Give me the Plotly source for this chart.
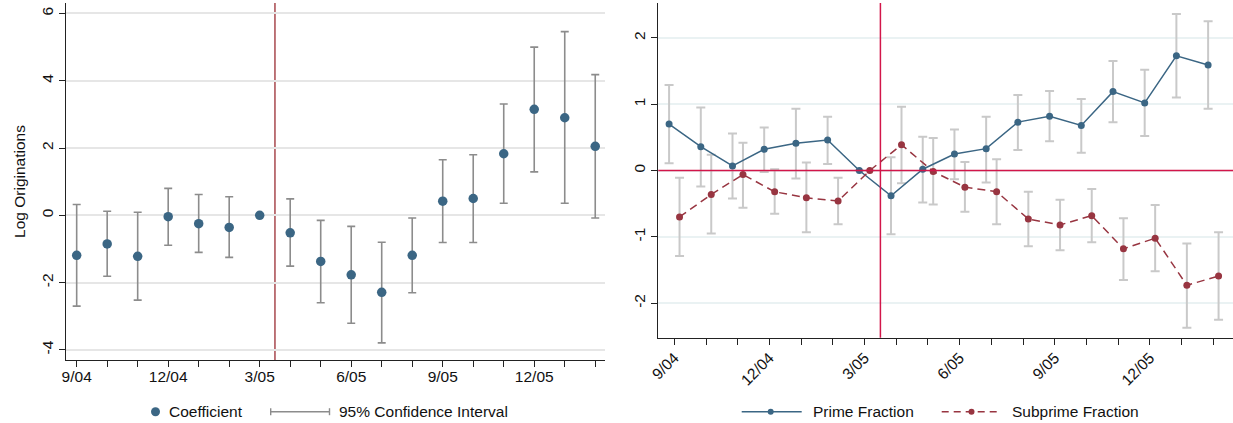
import plotly.graph_objects as go

W, H = 1233, 423

months = ['9/04', '10/04', '11/04', '12/04', '1/05', '2/05', '3/05', '4/05', '5/05',
          '6/05', '7/05', '8/05', '9/05', '10/05', '11/05', '12/05', '1/06', '2/06']
labeled = ['9/04', '12/04', '3/05', '6/05', '9/05', '12/05']

# Left panel: coefficient and 95% CI
coef = [-1.19, -0.85, -1.22, -0.04, -0.25, -0.36, 0.0, -0.52, -1.37,
        -1.77, -2.29, -1.19, 0.42, 0.50, 1.83, 3.15, 2.90, 2.05]
ci_hi = [0.32, 0.12, 0.09, 0.80, 0.62, 0.55, None, 0.49, -0.15,
         -0.33, -0.80, -0.08, 1.65, 1.80, 3.31, 5.00, 5.46, 4.18]
ci_lo = [-2.70, -1.81, -2.52, -0.89, -1.10, -1.25, None, -1.51, -2.60,
         -3.21, -3.79, -2.30, -0.81, -0.81, 0.36, 1.29, 0.36, -0.08]
left_yticks = [-4, -2, 0, 2, 4, 6]
left_yticklabels = ['-4', '-2', '0', '2', '4', '6']

# Right panel: prime and subprime fractions with CIs
prime = [0.70, 0.36, 0.07, 0.32, 0.41, 0.46, 0.0, -0.38, 0.02,
         0.25, 0.33, 0.73, 0.82, 0.68, 1.19, 1.02, 1.73, 1.59]
prime_hi = [1.29, 0.95, 0.56, 0.65, 0.93, 0.81, None, 0.20, 0.51,
            0.62, 0.81, 1.14, 1.20, 1.08, 1.65, 1.52, 2.36, 2.25]
prime_lo = [0.11, -0.24, -0.42, -0.02, -0.12, 0.10, None, -0.96, -0.48,
            -0.13, -0.18, 0.31, 0.44, 0.27, 0.73, 0.52, 1.10, 0.93]
sub = [-0.70, -0.36, -0.06, -0.32, -0.41, -0.46, 0.0, 0.39, -0.015,
       -0.25, -0.32, -0.73, -0.82, -0.68, -1.18, -1.02, -1.73, -1.59]
sub_hi = [-0.11, 0.24, 0.42, 0.02, 0.12, -0.11, None, 0.96, 0.49,
          0.13, 0.17, -0.32, -0.44, -0.28, -0.72, -0.52, -1.10, -0.93]
sub_lo = [-1.29, -0.95, -0.56, -0.65, -0.93, -0.81, None, -0.19, -0.51,
          -0.62, -0.81, -1.14, -1.20, -1.08, -1.65, -1.52, -2.37, -2.25]
right_yticks = [-2, -1, 0, 1, 2]
right_yticklabels = ['-2', '-1', '0', '1', '2']

EVENT_X = 6.5
OFFSET = 0.165

idx = list(range(len(months)))
ticktext = [m if m in labeled else '' for m in months]


def err(vals, hi, lo):
    up = [(h - v) if h is not None else 0 for v, h in zip(vals, hi)]
    dn = [(v - l) if l is not None else 0 for v, l in zip(vals, lo)]
    return up, dn


NAVY = '#3b6684'
MAROON = '#983541'
FONT = 'Liberation Sans, Arial, sans-serif'
FS = 15.5

fig = go.Figure()

up, dn = err(coef, ci_hi, ci_lo)
fig.add_trace(go.Scatter(
    x=idx, y=coef, mode='markers', xaxis='x', yaxis='y',
    marker=dict(size=9.5, color=NAVY),
    error_y=dict(type='data', symmetric=False, array=up, arrayminus=dn,
                 color='#8c8c8c', thickness=1.6, width=4),
    showlegend=False))

xp = [i - OFFSET for i in idx]
xs = [i + OFFSET for i in idx]
up, dn = err(prime, prime_hi, prime_lo)
fig.add_trace(go.Scatter(
    x=xp, y=prime, mode='markers', xaxis='x2', yaxis='y2',
    marker=dict(size=0.1, color='rgba(0,0,0,0)'),
    error_y=dict(type='data', symmetric=False, array=up, arrayminus=dn,
                 color='#c9c9c9', thickness=2, width=4.5),
    showlegend=False))
up, dn = err(sub, sub_hi, sub_lo)
fig.add_trace(go.Scatter(
    x=xs, y=sub, mode='markers', xaxis='x2', yaxis='y2',
    marker=dict(size=0.1, color='rgba(0,0,0,0)'),
    error_y=dict(type='data', symmetric=False, array=up, arrayminus=dn,
                 color='#c9c9c9', thickness=2, width=4.5),
    showlegend=False))

# Reference lines
fig.add_shape(type='line', xref='x2 domain', yref='y2', x0=0, x1=1, y0=0, y1=0,
              line=dict(color='#d2164a', width=1.5), layer='above')
fig.add_shape(type='line', xref='x2', yref='y2 domain', x0=EVENT_X, x1=EVENT_X, y0=0, y1=1,
              line=dict(color='#d2164a', width=1.5), layer='above')
fig.add_shape(type='line', xref='x', yref='y domain', x0=EVENT_X, x1=EVENT_X, y0=0, y1=1,
              line=dict(color='#ad5359', width=1.6), layer='below')

fig.add_trace(go.Scatter(
    x=xp, y=prime, mode='lines+markers', xaxis='x2', yaxis='y2',
    line=dict(color=NAVY, width=1.5), marker=dict(size=7, color=NAVY),
    showlegend=False))
fig.add_trace(go.Scatter(
    x=xs, y=sub, mode='lines+markers', xaxis='x2', yaxis='y2',
    line=dict(color=MAROON, width=1.5, dash='8px,5px'), marker=dict(size=7, color=MAROON),
    showlegend=False))

axis_common = dict(showline=True, linecolor='#222', linewidth=1.2, ticks='outside',
                   ticklen=6, tickwidth=1.2, tickcolor='#222', zeroline=False,
                   automargin=False,
                   tickfont=dict(family=FONT, size=FS, color='#111'))

fig.update_layout(
    template='none',
    width=W, height=H, margin=dict(l=0, r=0, t=0, b=0, pad=0),
    paper_bgcolor='white', plot_bgcolor='white', showlegend=False,
    font=dict(family=FONT, size=FS, color='#111'),
    xaxis=dict(domain=[66 / W, 605 / W], range=[-0.35, 17.32], tickvals=idx, ticktext=ticktext,
               showgrid=False, tickangle=0, anchor='y', ticklabelstandoff=-4, **axis_common),
    yaxis=dict(domain=[1 - 360 / H, 1 - 3 / H], range=[-4.30, 6.31],
               tickvals=left_yticks, ticktext=left_yticklabels,
               showgrid=True, gridcolor='#e6e6e6', gridwidth=1.5, tickangle=-90, anchor='x',
               title=dict(text='Log Originations', font=dict(family=FONT, size=FS, color='#111')),
               **axis_common),
    xaxis2=dict(domain=[658.3 / W, 1.0], range=[-0.505, 17.62], tickvals=idx, ticktext=ticktext,
                showgrid=False, tickangle=-45, anchor='y2', ticklabelstandoff=-2, **axis_common),
    yaxis2=dict(domain=[1 - 337.7 / H, 1 - 3 / H], range=[-2.52, 2.526],
                tickvals=right_yticks, ticktext=right_yticklabels,
                showgrid=True, gridcolor='#eaf2f3', gridwidth=1.5, tickangle=-90, anchor='x2',
                **axis_common),
)

# Legends (drawn as decorations in paper coordinates)
LY = 1 - 411.7 / H


def px(x):
    return x / W


def legend_text(x, text):
    fig.add_annotation(x=px(x), y=LY, xref='paper', yref='paper', text=text, showarrow=False,
                       xanchor='left', yanchor='middle',
                       font=dict(family=FONT, size=FS, color='#111'))


def legend_dot(x, d, color):
    fig.add_shape(type='circle', xref='paper', yref='paper', xsizemode='pixel', ysizemode='pixel',
                  xanchor=px(x), yanchor=LY, x0=-d / 2, x1=d / 2, y0=-d / 2, y1=d / 2,
                  fillcolor=color, line=dict(width=0))


def legend_line(x0, x1, color, width, dash='solid'):
    fig.add_shape(type='line', xref='paper', yref='paper', x0=px(x0), x1=px(x1), y0=LY, y1=LY,
                  line=dict(color=color, width=width, dash=dash))


legend_dot(155.5, 9, NAVY)
legend_text(167, 'Coefficient')
legend_line(270.7, 329.5, '#8c8c8c', 1.4)
for xc in (270.7, 329.5):
    fig.add_shape(type='line', xref='paper', yref='paper', x0=px(xc), x1=px(xc),
                  y0=LY - 3.5 / H, y1=LY + 3.5 / H, line=dict(color='#8c8c8c', width=1.4))
legend_text(337, '95% Confidence Interval')

legend_line(741.7, 801.7, NAVY, 1.5)
legend_dot(770.7, 6, NAVY)
legend_text(810.5, 'Prime Fraction')
legend_line(941.7, 1001.7, MAROON, 1.5, dash='7px,5px')
legend_dot(971.5, 6, MAROON)
legend_text(1009.5, 'Subprime Fraction')

fig.write_html('out.html')
